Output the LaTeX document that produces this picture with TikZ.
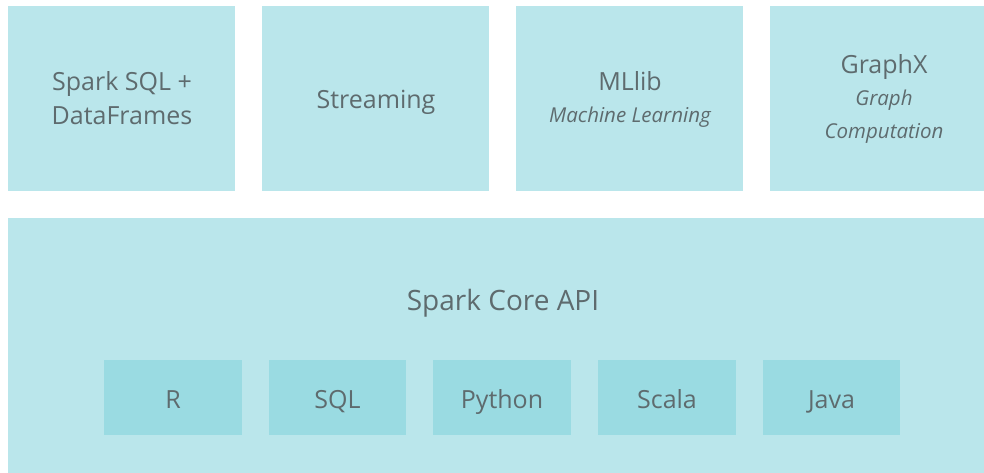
\documentclass[tikz,border=0pt]{standalone}
\usepackage{fontspec}
\setmainfont{Open Sans}
\definecolor{boxc}{HTML}{BAE6EB}
\definecolor{langc}{HTML}{9ADBE2}
\definecolor{txtc}{HTML}{5E6B6E}
\begin{document}
\begin{tikzpicture}[x=1pt,y=-1pt,
  topbox/.style={fill=boxc,draw=none},
  langbox/.style={fill=langc,draw=none},
  lbl/.style={text=txtc,font=\fontsize{25}{30}\selectfont,anchor=base,inner sep=0pt},
  sub/.style={text=txtc,font=\fontsize{20.5}{25}\selectfont\itshape,anchor=base,inner sep=0pt},
  langlbl/.style={text=txtc,font=\fontsize{25}{30}\selectfont,anchor=base,inner sep=0pt}]
\useasboundingbox (0,0) rectangle (984,473);
\fill[white] (0,0) rectangle (984,473);
% top boxes
\path[topbox] (8,6) rectangle (235,191);
\path[topbox] (262,6) rectangle (489,191);
\path[topbox] (516,6) rectangle (743,191);
\path[topbox] (770,6) rectangle (984,191);
\path[topbox] (8,218) rectangle (984,473);
\node[lbl] (sql) at (122,91) {Spark SQL +};
\node[lbl] (df) at (122,125) {DataFrames};
\node[lbl] (stream) at (376,109) {Streaming};
\node[lbl] (mllib) at (630,91) {MLlib};
\node[sub] (ml) at (630,123) {Machine Learning};
\node[lbl] (graphx) at (884,74) {GraphX};
\node[sub] (gr) at (884,106) {Graph};
\node[sub] (comp) at (884,139) {Computation};
\node[text=txtc,font=\fontsize{28}{34}\selectfont,anchor=base,inner sep=0pt] (core) at (503,310) {Spark Core API};
% language boxes
\path[langbox] (104,360) rectangle (242,435);
\path[langbox] (269,360) rectangle (406,435);
\path[langbox] (433,360) rectangle (571,435);
\path[langbox] (598,360) rectangle (736,435);
\path[langbox] (763,360) rectangle (900,435);
\node[langlbl] (r) at (173,408) {R};
\node[langlbl] (sqlb) at (337.5,408) {SQL};
\node[langlbl] (py) at (502,408) {Python};
\node[langlbl] (sc) at (667,408) {Scala};
\node[langlbl] (java) at (831.5,408) {Java};
\end{tikzpicture}
\end{document}
